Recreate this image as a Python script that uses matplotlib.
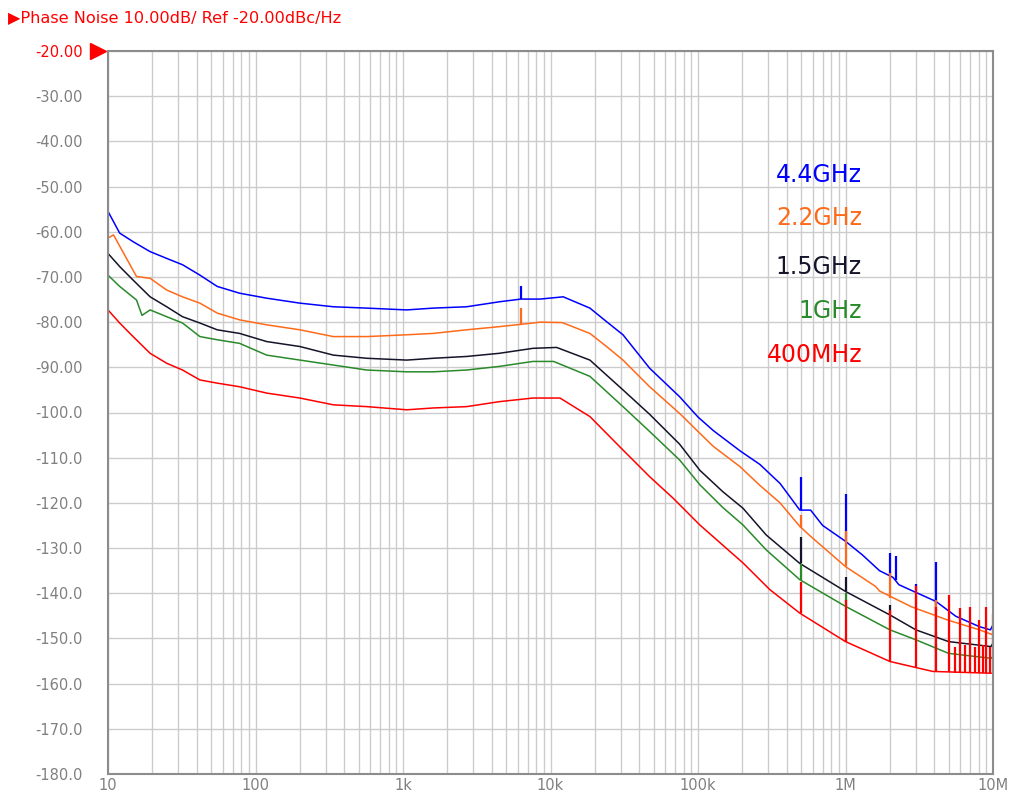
import matplotlib
matplotlib.use("Agg")
import matplotlib.pyplot as plt
from matplotlib.ticker import FixedLocator, LogLocator, NullFormatter

# частоты отстройки, Гц / уровни фазового шума, dBc/Hz
f_blue = [10, 12, 14.8, 19.3, 25, 32, 42, 55, 78, 119, 200, 337, 568, 1060, 1600, 2700, 4500,
          6300, 8500, 12200, 18500, 24000, 31000, 47000, 75000, 100000, 127000, 193000, 263000,
          324000, 360000, 490000, 580000, 700000, 1e6, 1.3e6, 1.7e6, 2.1e6, 2.3e6, 2.9e6,
          4.1e6, 5.6e6, 8.1e6, 9.6e6, 1e7]
pn_blue = [-55.5, -60.3, -62.2, -64.4, -65.9, -67.3, -69.6, -72.1, -73.6, -74.7, -75.8, -76.6,
           -76.9, -77.3, -76.9, -76.6, -75.5, -74.9, -74.9, -74.4, -76.9, -79.9, -82.8, -90.2,
           -96.5, -101.0, -104.0, -108.5, -111.5, -114.3, -115.7, -121.6, -121.6, -125.0,
           -128.5, -131.5, -135.0, -136.5, -138.1, -139.6, -141.8, -145.1, -147.4, -148.1, -147.0]

f_orange = [10, 10.9, 15.6, 19.3, 25, 32, 42, 55, 78, 119, 200, 337, 568, 1060, 1600, 2700,
            4500, 7600, 8500, 12000, 18500, 24000, 31000, 47000, 75000, 100000, 127000, 193000,
            260000, 360000, 490000, 580000, 1e6, 1.6e6, 1.7e6, 2.8e6, 4.9e6, 8.1e6, 1e7]
pn_orange = [-61.4, -60.7, -69.9, -70.3, -72.9, -74.4, -75.8, -78.0, -79.5, -80.6, -81.7, -83.2,
             -83.2, -82.8, -82.5, -81.7, -81.0, -80.2, -80.0, -80.1, -82.5, -85.4, -88.4, -94.3,
             -100.2, -104.2, -107.5, -112.0, -116.0, -120.0, -125.2, -127.4, -134.1, -138.5,
             -139.5, -143.0, -145.9, -148.1, -149.2]

f_black = [10, 12, 14.8, 19.3, 25, 32, 42, 55, 78, 119, 200, 337, 568, 1060, 1600, 2700, 4500,
           7600, 11000, 18500, 31000, 47000, 75000, 103000, 147000, 202000, 290000, 490000, 1e6,
           2e6, 3e6, 5e6, 9.7e6, 1e7]
pn_black = [-64.8, -67.7, -70.7, -74.4, -76.6, -78.8, -80.2, -81.7, -82.5, -84.3, -85.4, -87.3,
            -88.0, -88.4, -88.0, -87.6, -86.9, -85.8, -85.6, -88.4, -95.0, -100.4, -107.0,
            -112.8, -117.5, -121.2, -127.1, -133.4, -139.6, -144.8, -148.1, -150.7, -151.8, -151.0]

f_green = [10, 12, 15.6, 17, 19.3, 25, 32, 42, 55, 78, 119, 200, 337, 568, 1060, 1600, 2700,
           4500, 7600, 10500, 18500, 31000, 47000, 75000, 103000, 147000, 202000, 290000, 490000,
           1e6, 2e6, 3e6, 5e6, 9.7e6, 1e7]
pn_green = [-69.6, -72.1, -75.1, -78.5, -77.3, -78.8, -80.2, -83.2, -83.9, -84.7, -87.3, -88.4,
            -89.5, -90.6, -91.0, -91.0, -90.6, -89.8, -88.7, -88.7, -92.0, -98.7, -104.2,
            -110.5, -116.0, -121.0, -124.9, -130.4, -137.0, -142.9, -148.1, -150.3, -153.3,
            -154.4, -154.0]

f_red = [10, 12, 14.8, 19.3, 25, 32, 42, 55, 78, 119, 200, 337, 568, 1060, 1600, 2700, 4500,
         7600, 11600, 18500, 31000, 47000, 68000, 103000, 202000, 307000, 490000, 1e6, 2e6,
         3.9e6, 9.7e6]
pn_red = [-77.3, -80.2, -83.2, -86.9, -89.1, -90.6, -92.8, -93.5, -94.3, -95.7, -96.8, -98.3,
          -98.7, -99.4, -99.0, -98.7, -97.6, -96.8, -96.8, -100.9, -108.3, -114.2, -119.0,
          -124.9, -133.3, -139.2, -144.4, -150.7, -155.1, -157.3, -157.7]

# паразитные составляющие: (частота, уровень у основания, уровень вершины)
spurs_blue = [(6300, -74.9, -72.1), (5e5, -121.5, -114.2), (1e6, -128.5, -118.0),
              (2e6, -136.0, -131.1), (2.2e6, -137.0, -131.8), (3e6, -139.6, -138.0),
              (4.1e6, -141.8, -133.0)]
spurs_orange = [(6300, -80.5, -76.9), (5e5, -125.5, -122.7), (1e6, -134.0, -126.3),
                (2e6, -141.0, -135.6), (3e6, -143.2, -140.5), (4.1e6, -145.0, -141.5)]
spurs_black = [(5e5, -133.4, -127.5), (1e6, -139.6, -136.5), (2e6, -144.8, -142.6),
               (4.1e6, -149.8, -148.5)]
spurs_green = [(5e5, -137.0, -133.5), (1e6, -142.9, -140.0), (2e6, -148.1, -145.5),
               (4.1e6, -152.5, -151.0)]
spurs_red = [(5e5, -144.4, -137.5), (1e6, -150.7, -141.5), (2e6, -155.1, -143.7),
             (3e6, -156.3, -138.5), (4.1e6, -157.3, -143.0), (5e6, -157.5, -140.4),
             (5.5e6, -157.6, -152.0), (6e6, -157.6, -143.3), (6.5e6, -157.6, -151.5),
             (7e6, -157.6, -143.0), (7.5e6, -157.6, -152.0), (8e6, -157.7, -146.0),
             (8.5e6, -157.7, -151.5), (9e6, -157.7, -143.0), (9.5e6, -157.7, -152.0),
             (1e7, -157.7, -144.6)]

labels = ["4.4GHz", "2.2GHz", "1.5GHz", "1GHz", "400MHz"]
colors = ["#0000ff", "#ff6a1a", "#14142a", "#2a8a2a", "#ff0000"]

y_ticks = list(range(-20, -181, -10))
y_labels = ["%.2f" % v if v > -100 else "%.1f" % v for v in y_ticks]
x_ticks = [10, 100, 1e3, 1e4, 1e5, 1e6, 1e7]
x_labels = ["10", "100", "1k", "10k", "100k", "1M", "10M"]

fig = plt.figure(figsize=(10.14, 7.95), dpi=100)
ax = fig.add_axes([108 / 1014, 21 / 795, 885 / 1014, 723 / 795])

traces = [(f_blue, pn_blue, spurs_blue), (f_orange, pn_orange, spurs_orange),
          (f_black, pn_black, spurs_black), (f_green, pn_green, spurs_green),
          (f_red, pn_red, spurs_red)]
for (f, pn, spurs), c in zip(traces, colors):
    ax.plot(f, pn, color=c, lw=1.1)
    ax.vlines([s[0] for s in spurs], [s[1] for s in spurs], [s[2] for s in spurs],
              color=c, lw=1.6)

ax.set_xscale("log")
ax.set_xlim(10, 1e7)
ax.set_ylim(-180, -20)

ax.xaxis.set_major_locator(FixedLocator(x_ticks))
ax.xaxis.set_minor_locator(LogLocator(base=10, subs=range(2, 10), numticks=20))
ax.xaxis.set_minor_formatter(NullFormatter())
ax.set_xticklabels(x_labels)
ax.set_yticks(y_ticks)
ax.set_yticklabels(y_labels)

ax.grid(True, which="both", axis="x", color="#cccccc", lw=1.0)
ax.grid(True, which="major", axis="y", color="#cccccc", lw=1.0)
ax.set_axisbelow(True)
ax.tick_params(which="both", length=0, colors="#808080", labelsize=10.5)
ax.tick_params(axis="y", pad=18)
ax.tick_params(axis="x", pad=3)
ax.get_yticklabels()[0].set_color("#ff0000")
for s in ax.spines.values():
    s.set_color("#8c8c8c")
    s.set_linewidth(1.5)

# метка опорного уровня
ax.plot([-0.011], [1.0], marker=">", color="#ff0000", markersize=11,
        transform=ax.transAxes, clip_on=False)
fig.text(8 / 1014, 1 - 18 / 795, "\u25b6Phase Noise 10.00dB/ Ref -20.00dBc/Hz",
         color="#ff0000", fontsize=11.6, va="center", ha="left")

label_y = [175, 218, 267, 311, 355]
for lab, c, yp in zip(labels, colors, label_y):
    ax.text((862 - 108) / 885, (774 - yp) / 723, lab, color=c, fontsize=17,
            ha="right", va="center", transform=ax.transAxes)

fig.savefig("out.png", dpi=100)
